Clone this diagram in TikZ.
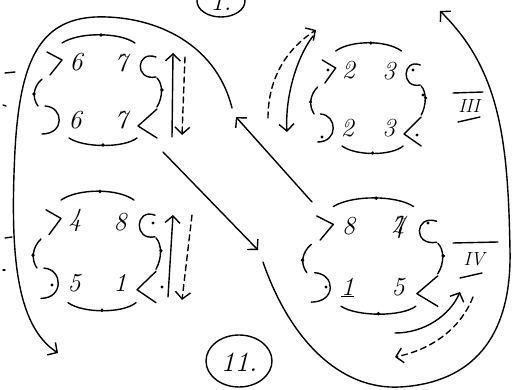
\documentclass[tikz,border=0pt]{standalone}
\usetikzlibrary{arrows.meta}
\tikzset{
 ink/.style={line width=1.4pt, line cap=round, line join=round},
 arr/.style={ink, -{Straight Barb[length=7pt,width=15pt]}},
 dsh/.style={dash pattern=on 6pt off 4pt},
 dig/.style={font=\fontsize{26}{30}\selectfont\itshape, inner sep=0pt},
 rom/.style={font=\fontsize{19}{22}\selectfont\itshape, inner sep=0pt},
}
\newcommand\sketchcell[6]{%
\begin{scope}[#2]
 \draw[ink] (-52,-40) -- (-37,-32) -- (-49,-17);
 \node[dig] (#1tl) at (-23,-30) {#3};
 \node[dig] (#1tr) at (22,-29) {#4};
 \node[dig] (#1bl) at (-24,28) {#5};
 \node[dig] (#1br) at (22,28) {#6};
 \draw[ink] (57,-35) .. controls (37,-42) and (35,-11) .. (57,-15);
 \draw[ink] (58,-14) .. controls (64,-8) and (64,5) .. (58,15);
 \fill (63,-2) circle (1.8pt);
 \draw[ink] (58,17) -- (39,34) -- (58,46);
 \draw[ink] (-54,14) .. controls (-35,15) and (-34,42) .. (-57,42);
 \draw[ink] (-57,-13) .. controls (-66,-5) and (-67,6) .. (-61,14);
 \fill (-65,2) circle (1.8pt);
 \draw[ink] (-37,-49) .. controls (-20,-60) and (20,-60) .. (36,-49);
 \fill (2,-57) circle (1.8pt);
 \draw[ink] (-30,46) .. controls (-15,56) and (25,56) .. (38,46);
 \fill (4,53) circle (1.8pt);
\end{scope}}
\begin{document}
\begin{tikzpicture}[x=1pt,y=-1pt]
\useasboundingbox (0,0) rectangle (515,390);
\fill[white] (0,0) rectangle (515,390);
\clip (0,0) rectangle (515,390);

% cells
\sketchcell{a}{shift={(99,92)}}{6}{7}{6}{7}
\sketchcell{b}{shift={(369,100)},xscale=0.9}{2}{3}{2}{3}
\sketchcell{c}{shift={(98,253)},yscale=1.08}{4}{8}{5}{1}
\sketchcell{d}{shift={(374,258)},xscale=1.1,yscale=1.05}{8}{\rlap{7}4}{\underline{1}}{5}

% extra dots
\foreach \p in {(413,70),(322,137),(417,135),(328,70),(423,95),(153,223),(52,285),(162,287),(428,223),(326,287)}
  \fill \p circle (1.6pt);

% roman labels
\node[rom] (r3) at (469,106) {III};
\draw[ink] (453,93) -- (483,92);
\draw[ink] (458,122) -- (480,117);
\node[rom] (r4) at (474,259) {IV};
\draw[ink] (453,243) -- (498,242);
\draw[ink] (460,278) -- (482,273);

% circles
\node[dig] (top) at (221,2) {1.};
\draw[ink] (221,1) ellipse [x radius=24pt, y radius=16pt];
\node[font=\fontsize{28}{32}\selectfont\itshape, inner sep=0pt] (eleven) at (239,362) {11.};
\draw[ink] (239,361) ellipse [x radius=33pt, y radius=26pt];

% big left loop
\coordinate (l0) at (232,108);
\coordinate (l1) at (58,353);
\draw[arr] (l0) .. controls (215,40) and (150,15) .. (95,17)
  .. controls (40,20) and (20,60) .. (15,150)
  .. controls (10,250) and (15,325) .. (l1);

% diagonals
\coordinate (g0) at (312,202);
\coordinate (g1) at (236,117);
\draw[arr] (g0) -- (g1);
\coordinate (h0) at (163,152);
\coordinate (h1) at (258,250);
\draw[arr] (h0) -- (h1);

% big right curve
\coordinate (s0) at (263,262);
\coordinate (s1) at (440,11);
\draw[arr] (s0) .. controls (290,340) and (340,390) .. (400,387)
  .. controls (470,383) and (512,340) .. (510,250)
  .. controls (508,140) and (500,70) .. (s1);

% cell I arrows
\coordinate (a1) at (172,137); \coordinate (a2) at (173,53);
\draw[arr] (a1) -- (a2);
\coordinate (a3) at (185,57); \coordinate (a4) at (182,135);
\draw[arr,dsh] (a3) -- (a4);

% cell II arrows
\coordinate (b1) at (313,36); \coordinate (b2) at (287,132);
\draw[arr] (b1) .. controls (295,60) and (285,100) .. (b2);
\coordinate (b3) at (268,118); \coordinate (b4) at (316,30);
\draw[arr,dsh] (b3) .. controls (268,80) and (285,50) .. (b4);

% cell III arrows
\coordinate (c1) at (168,297); \coordinate (c2) at (173,215);
\draw[arr] (c1) -- (c2);
\coordinate (c3) at (192,215); \coordinate (c4) at (182,300);
\draw[arr,dsh] (c3) -- (c4);

% cell IV arrows
\coordinate (e1) at (395,333); \coordinate (e2) at (460,292);
\draw[arr] (e1) .. controls (425,333) and (450,315) .. (e2);
\coordinate (e3) at (473,297); \coordinate (e4) at (395,357);
\draw[arr,dsh] (e3) .. controls (460,330) and (430,350) .. (e4);

% margin ticks
\draw[ink] (5,73) -- (15,72);
\draw[ink] (3,105) -- (6,106);
\draw[ink] (5,238) -- (12,237);
\draw[ink] (3,270) -- (5,270);
\end{tikzpicture}
\end{document}
